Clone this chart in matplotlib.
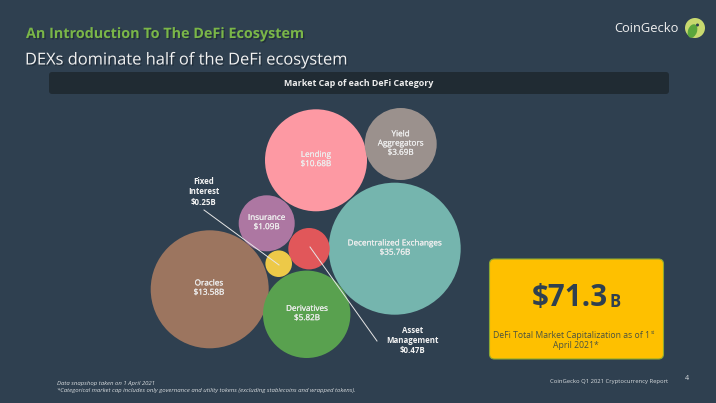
#! /usr/bin/env python3

import matplotlib
matplotlib.use("Agg")
import matplotlib.pyplot as plt
import matplotlib.patheffects as pe
from matplotlib.patches import Circle, Ellipse, FancyBboxPatch

categories = ['Lending', 'Yield\nAggregators', 'Decentralized Exchanges', 'Insurance',
              'Asset\nManagement', 'Fixed\nInterest', 'Oracles', 'Derivatives']
market_cap = [10.68, 3.69, 35.76, 1.09, 0.47, 0.25, 13.58, 5.82]
total_cap = 71.3

# layout of the bubbles in picture pixels
bubble_x = [316, 400.7, 394.7, 266.7, 309, 278.7, 209.7, 306.7]
bubble_y = [160.3, 144, 248.7, 223.3, 248.7, 263.7, 289.3, 314.3]
bubble_r = [51, 36, 66, 28, 20.7, 13.3, 59, 43.7]
colors = ['#fd99a3', '#9b918d', '#75b5ae', '#ad77a2', '#e1575a', '#edc948', '#9c755f', '#59a14f']

BG = '#2f4050'
plt.rcParams['font.family'] = ['Open Sans', 'DejaVu Sans']

fig = plt.figure(figsize=(7.16, 4.03), dpi=100, facecolor=BG)
ax = fig.add_axes([0, 0, 1, 1])
ax.set_xlim(0, 716)
ax.set_ylim(403, 0)
ax.axis('off')

shadow = [pe.withSimplePatchShadow(offset=(1, -1), shadow_rgbFace='#1a2530', alpha=0.6)]
# the labels in the bubbles are a bit heavier than regular
medium = [pe.withStroke(linewidth=0.12, foreground='#eeeeee')]

# headers
ax.text(26, 34, 'An Introduction To The DeFi Ecosystem', color='#7ab648', fontsize=10.35,
        fontweight='bold', va='center', path_effects=shadow)
ax.text(25, 60.5, 'DEXs dominate half of the DeFi ecosystem', color='#f2f2f2', fontsize=11.85,
        va='center', path_effects=shadow)
ax.add_patch(FancyBboxPatch((49, 72), 620, 22, boxstyle='round,pad=0,rounding_size=3',
                            fc='#202b33', ec='none'))
ax.text(359, 83, 'Market Cap of each DeFi Category', color='#eeeeee', fontsize=6.4,
        fontweight='bold', ha='center', va='center')

# logo
ax.text(614, 28.5, 'CoinGecko', color='#f0f0f0', fontsize=9.3, va='center')
ax.add_patch(Circle((695, 28), 10, fc='#c8d96f', ec='none'))
ax.add_patch(Ellipse((692.5, 31), 9, 14, angle=20, fc='#5aa63c', ec='none'))
ax.add_patch(Circle((697.5, 25), 1.5, fc='#2f4050', ec='none'))

# bubbles
for i in range(len(categories)):
    ax.add_patch(Circle((bubble_x[i], bubble_y[i]), bubble_r[i], fc=colors[i], ec='none'))

# bubble labels, the two smallest ones sit outside with a leader line
label_pos = {
    'Lending': (316, 160),
    'Yield\nAggregators': (400.7, 144),
    'Decentralized Exchanges': (395, 248.5),
    'Insurance': (266.7, 223),
    'Oracles': (209, 288.5),
    'Derivatives': (307, 314),
    'Asset\nManagement': (412.5, 340.5),
    'Fixed\nInterest': (203.5, 192),
}
outside = ['Asset\nManagement', 'Fixed\nInterest']
for name, cap in zip(categories, market_cap):
    x, y = label_pos[name]
    s = '%s\n$%.2fB' % (name, cap)
    if name in outside:
        ax.text(x, y, s, color='#f4f4f4', fontsize=5.7, fontweight='bold',
                ha='center', va='center', linespacing=1.15)
    else:
        ax.text(x, y, s, color='#eeeeee', fontsize=5.85, ha='center', va='center',
                linespacing=1.45, path_effects=medium)

ax.plot([204, 279], [210, 265], color='#e6e6e6', lw=0.7)
ax.plot([310, 377], [247, 341], color='#e6e6e6', lw=0.7)

# total box
ax.add_patch(FancyBboxPatch((489.5, 259), 174, 100, boxstyle='round,pad=0,rounding_size=5',
                            fc='#fec000', ec='#8ca833', lw=0.8))
ax.text(570, 298, '$%.1f' % total_cap, color='#2f4050', fontsize=21.3, fontweight='bold',
        ha='center', va='center')
ax.text(609.5, 302, 'B', color='#2f4050', fontsize=12, fontweight='bold', ha='left', va='center')
ax.text(493, 335, 'DeFi Total Market Capitalization as of 1', color='#4a5240', fontsize=6.25,
        va='center')
ax.text(651, 333, 'st', color='#4a5240', fontsize=3.6, va='center')
ax.text(576, 345.5, 'April 2021*', color='#4a5240', fontsize=6.25, ha='center', va='center')

# footer
ax.text(57, 383, 'Data snapshop taken on 1 April 2021', color='#d8dcdf', fontsize=4.3,
        style='italic', va='center')
ax.text(57, 390.5, '*Categorical market cap includes only governance and utility tokens '
        '(excluding stablecoins and wrapped tokens).', color='#d8dcdf', fontsize=4.3,
        style='italic', va='center')
ax.text(550.5, 381, 'CoinGecko Q1 2021 Cryptocurrency Report', color='#d8dcdf', fontsize=4.28,
        va='center')
ax.text(687, 379, '4', color='#d8dcdf', fontsize=5.2, ha='center', va='center')

fig.savefig('out.png', dpi=100, facecolor=BG)
